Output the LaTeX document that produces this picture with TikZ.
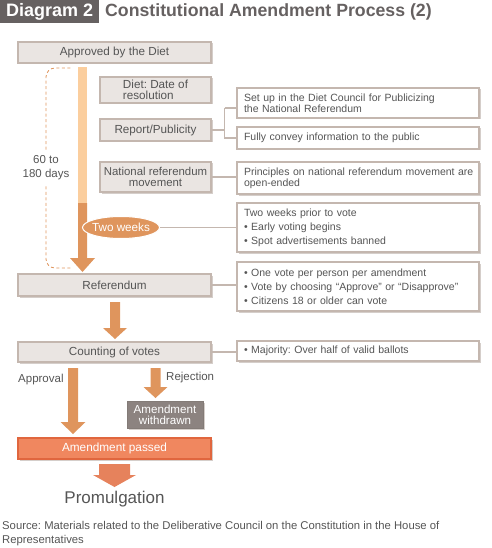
\documentclass[tikz,border=0pt]{standalone}
\usepackage{fontspec}
\setmainfont{Liberation Sans}
\frenchspacing
\usetikzlibrary{calc,shadows,shapes.geometric}
\definecolor{txt}{HTML}{555555}
\definecolor{boxfill}{HTML}{EAE5E2}
\definecolor{boxline}{HTML}{C4B7AF}
\definecolor{shade}{HTML}{D5CECA}
\definecolor{lightor}{HTML}{FBCE9E}
\definecolor{darkor}{HTML}{DF955D}
\definecolor{passfill}{HTML}{F0875F}
\definecolor{passline}{HTML}{E0663E}
\definecolor{withfill}{HTML}{8C8380}
\definecolor{titlebg}{HTML}{666161}
\definecolor{promo}{HTML}{E6825C}
\tikzset{
  x=1pt,y=1pt,
  sh/.style={general shadow={fill=shade, shadow xshift=1.5pt, shadow yshift=-1.5pt}},
  graybox/.style={draw=boxline, line width=1.1pt, fill=boxfill, sh, text=txt, font=\fontsize{11.7}{11}\selectfont, inner sep=1pt},
  infobox/.style={draw=boxline, line width=1.1pt, fill=white, sh, text=txt, font=\fontsize{10.5}{11}\selectfont, minimum width=242pt, text width=228pt, inner xsep=7pt, inner ysep=0pt, align=left, anchor=center},
  listbox/.style={infobox, font=\fontsize{10.5}{14}\selectfont},
  conn/.style={draw=boxline, line width=1.1pt},
  lbl/.style={text=txt, font=\fontsize{11.5}{14}\selectfont, inner sep=0pt},
}
\newcommand{\fatarrow}[6]{% start, end, shaftw, headw, headlen, color
  \fill[#6] ($(#1)+(-#3/2,0)$) -- ($(#2)+(-#3/2,#5)$) -- ($(#2)+(-#4/2,#5)$) -- (#2)
    -- ($(#2)+(#4/2,#5)$) -- ($(#2)+(#3/2,#5)$) -- ($(#1)+(#3/2,0)$) -- cycle;}
\begin{document}
\begin{tikzpicture}
\useasboundingbox (0,0) rectangle (491,-548);
% title
\node[fill=titlebg, text=white, font=\fontsize{18}{18}\bfseries, minimum width=99pt, minimum height=23pt, inner sep=0pt, anchor=north west] (tag) at (0,0) {Diagram 2};
\node[text=titlebg, font=\fontsize{17.7}{17}\bfseries, anchor=west, inner sep=0pt] (title) at (105,-11.5) {Constitutional Amendment Process (2)};

% left column boxes
\node[graybox, minimum width=193pt, minimum height=21pt] (approved) at (114.5,-52.5) {Approved by the Diet};
\node[graybox, minimum width=111pt, minimum height=26pt, align=left] (dietdate) at (155.5,-90) {Diet: Date of\\resolution};
\node[graybox, minimum width=111pt, minimum height=22pt] (report) at (155.5,-130) {Report/Publicity};
\node[graybox, minimum width=111pt, minimum height=30pt, align=center, font=\fontsize{11.4}{11}\selectfont] (natmove) at (155.5,-177) {National referendum\\movement};
\node[graybox, minimum width=193pt, minimum height=22pt] (referendum) at (114.5,-285) {Referendum};
\node[graybox, minimum width=193pt, minimum height=20pt] (counting) at (114.5,-352) {Counting of votes};
\node[draw=boxline!60!black!40!withfill, line width=1pt, fill=withfill, sh, text=white, font=\fontsize{11.6}{11}\selectfont, minimum width=76pt, minimum height=27pt, align=center, inner sep=0pt] (withdrawn) at (165,-414.5) {Amendment\\withdrawn};
\node[draw=passline, line width=1.1pt, fill=passfill, sh, text=white, font=\fontsize{11.8}{11}\selectfont, minimum width=193pt, minimum height=21pt, inner sep=0pt] (passed) at (114.5,-448.5) {Amendment passed};
\node[text=txt, font=\fontsize{17}{17}\selectfont, inner sep=0pt] (promulgation) at (114.5,-499) {Promulgation};

% right info boxes
\node[infobox, minimum height=30pt] (setup) at (358,-103) {Set up in the Diet Council for Publicizing\\the National Referendum};
\node[infobox, minimum height=22pt] (fully) at (358,-138) {Fully convey information to the public};
\node[infobox, minimum height=32pt] (principles) at (358,-178) {\mbox{Principles on national referendum movement are}\\open-ended};
\node[listbox, minimum height=49pt] (twoinfo) at (358,-227.5) {Two weeks prior to vote\\\textbullet\ Early voting begins\\\textbullet\ Spot advertisements banned};
\node[listbox, minimum height=49pt] (refinfo) at (358,-286.5) {\textbullet\ One vote per person per amendment\\\mbox{\textbullet\ Vote by choosing “Approve” or “Disapprove”}\\\textbullet\ Citizens 18 or older can vote};
\node[infobox, minimum height=20pt] (majority) at (358,-351) {\textbullet\ Majority: Over half of valid ballots};

% main time bar
\coordinate (bartop) at (82.5,-67);
\coordinate (barmid) at (82.5,-203);
\coordinate (bartip) at (82.5,-272);
\fill[lightor] ($(bartop)+(-4.5,0)$) rectangle ($(barmid)+(4.5,0)$);
\fatarrow{barmid}{bartip}{9}{25}{14}{darkor}

% two weeks ellipse
\node[ellipse, fill=darkor, draw=white, line width=1pt, text=white, font=\fontsize{11.7}{11}\selectfont, minimum width=77pt, minimum height=22pt, inner xsep=-3pt, inner ysep=0pt] (twoweeks) at (121,-227.5) {Two weeks};

% dashed bracket
\coordinate (dtop) at (72,-68);
\coordinate (dbot) at (72,-268);
\node[lbl, align=center, inner ysep=6pt] (days) at (46,-168) {60 to\\180 days};
\draw[darkor, dash pattern=on 3pt off 2.5pt, line width=0.8pt, rounded corners=9pt] (days.north) -- (days.north |- dtop) -- (dtop);
\draw[darkor, dash pattern=on 3pt off 2.5pt, line width=0.8pt, rounded corners=9pt] (days.south) -- (days.south |- dbot) -- (dbot);

% connectors
\coordinate (junc) at (224.5,-130);
\draw[conn] (report.east) -- (junc);
\draw[conn] (junc |- 0,-108) -- (junc |- fully.west) -- (fully.west);
\draw[conn] (junc |- 0,-108) -- (setup.west |- 0,-108);
\draw[conn] (natmove.east) -- (natmove.east -| principles.west);
\draw[conn] (twoweeks.east) -- (twoweeks.east -| twoinfo.west);
\draw[conn] (referendum.east) -- (referendum.east -| refinfo.west);
\draw[conn] (counting.east) -- (counting.east -| majority.west);

% flow arrows
\coordinate (a1s) at (115,-302);
\coordinate (a1e) at (115,-339);
\fatarrow{a1s}{a1e}{10}{24}{11}{darkor}
\coordinate (aps) at (73,-368);
\coordinate (ape) at (73,-434);
\fatarrow{aps}{ape}{10}{25}{12}{darkor}
\coordinate (rjs) at (155.5,-368);
\coordinate (rje) at (155.5,-398);
\fatarrow{rjs}{rje}{10}{24}{11}{darkor}
\coordinate (prs) at (114.5,-464);
\coordinate (pre) at (114.5,-487);
\fatarrow{prs}{pre}{31}{43}{12}{promo}
\node[lbl, anchor=west] (approval) at (18,-380) {Approval};
\node[lbl, anchor=west] (rejection) at (166,-378) {Rejection};

% source
\node[text=txt, font=\fontsize{11.3}{14}\selectfont, anchor=north west, align=left, inner sep=0pt] (source) at (2,-521) {Source: Materials related to the Deliberative Council on the Constitution in the House of\\Representatives};
\end{tikzpicture}
\end{document}
